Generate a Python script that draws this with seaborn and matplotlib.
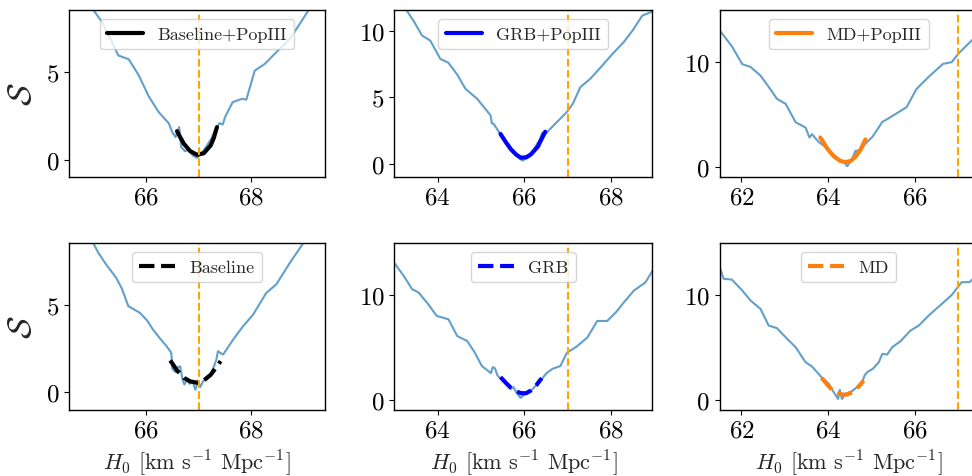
import numpy as np
import pandas as pd
import matplotlib
matplotlib.use("Agg")
import matplotlib.pyplot as plt
import seaborn as sns

# ---------------- data ----------------
# Panel 1: Baseline+PopIII
bp_h0 = [64.90, 65.00, 65.16, 65.32, 65.47, 65.67, 65.86, 66.05, 66.24, 66.43, 66.50, 66.56,
         66.63, 66.67, 66.74, 66.80, 66.89, 66.97, 67.05, 67.14, 67.24, 67.33, 67.40, 67.46,
         67.51, 67.65, 67.83, 67.91, 68.07, 68.26, 68.48, 68.74, 68.91, 69.09, 69.20]
bp_s = [9.00, 8.53, 7.86, 6.91, 5.95, 5.73, 4.81, 3.61, 2.71, 2.08, 1.56, 1.28,
        1.85, 0.71, 0.48, 0.55, 0.23, 0.10, 0.32, 0.71, 1.18, 1.76, 2.08, 2.00,
        2.46, 3.28, 3.47, 3.42, 5.08, 5.46, 6.13, 6.89, 7.67, 8.51, 9.00]
bp_fit_h0 = [66.59, 66.66, 66.72, 66.84, 66.97, 67.10, 67.23, 67.29, 67.35]
bp_fit_s = [1.62, 1.22, 0.90, 0.48, 0.27, 0.36, 0.80, 1.23, 1.85]

# Panel 2: GRB+PopIII
gp_h0 = [63.00, 63.29, 63.46, 63.64, 63.83, 64.06, 64.25, 64.46, 64.64, 64.91, 65.08, 65.22,
         65.25, 65.29, 65.46, 65.58, 65.69, 65.81, 65.88, 65.96, 66.04, 66.12, 66.23, 66.35,
         66.41, 66.45, 66.75, 66.98, 67.12, 67.29, 67.52, 67.77, 68.04, 68.29, 68.50, 68.72,
         68.91, 69.00]
gp_s = [12.3, 11.5, 10.65, 9.63, 9.25, 7.88, 7.58, 6.65, 5.63, 4.88, 4.20, 3.63,
        3.03, 3.00, 2.15, 1.60, 1.15, 0.65, 0.40, 0.23, 0.40, 0.53, 1.15, 1.78,
        2.33, 2.13, 3.13, 3.88, 4.53, 5.75, 6.38, 7.28, 8.28, 9.13, 10.03, 11.13,
        11.38, 11.60]
gp_fit_h0 = [65.45, 65.58, 65.69, 65.81, 65.92, 66.04, 66.15, 66.31, 66.48]
gp_fit_s = [2.23, 1.58, 1.08, 0.68, 0.45, 0.48, 0.70, 1.28, 2.40]

# Panel 3: MD+PopIII
mp_h0 = [61.50, 61.78, 62.02, 62.21, 62.44, 62.63, 62.82, 63.02, 63.25, 63.48, 63.57, 63.63,
         63.78, 63.94, 64.09, 64.25, 64.36, 64.44, 64.54, 64.63, 64.75, 64.86, 65.02, 65.12,
         65.25, 65.32, 65.50, 65.81, 66.04, 66.35, 66.65, 66.85, 67.00, 67.31, 67.50]
mp_s = [13.04, 11.53, 9.81, 9.55, 8.72, 7.64, 6.49, 6.01, 4.25, 3.74, 2.78, 3.10,
        2.36, 1.88, 1.25, 0.67, 0.45, 0.03, 0.61, 1.50, 1.57, 2.20, 2.84, 3.45,
        4.28, 4.44, 4.89, 5.69, 7.44, 8.72, 9.84, 10.00, 10.80, 12.08, 12.70]
mp_fit_h0 = [63.82, 63.98, 64.13, 64.28, 64.40, 64.52, 64.63, 64.75, 64.86]
mp_fit_s = [2.78, 1.73, 0.99, 0.54, 0.42, 0.54, 0.93, 1.63, 2.59]

# Panel 4: Baseline
b_h0 = [64.95, 65.00, 65.09, 65.24, 65.43, 65.54, 65.66, 65.88, 66.02, 66.13, 66.27, 66.39,
        66.48, 66.50, 66.56, 66.61, 66.65, 66.69, 66.73, 66.78, 66.83, 66.89, 66.94, 66.99,
        67.03, 67.08, 67.14, 67.23, 67.30, 67.34, 67.37, 67.42, 67.47, 67.66, 67.85, 68.04,
        68.29, 68.48, 68.74, 69.02]
b_s = [8.80, 8.45, 7.94, 7.27, 6.52, 5.89, 4.91, 4.53, 4.09, 3.58, 3.05, 2.63,
       2.25, 1.34, 1.16, 1.44, 1.48, 0.78, 0.45, 0.72, 0.49, 0.59, 0.15, 0.68,
       0.30, 0.59, 0.83, 1.06, 1.53, 1.88, 2.35, 2.23, 2.16, 3.01, 3.77, 4.43,
       5.66, 6.14, 7.37, 8.60]
b_fit_h0 = [66.46, 66.59, 66.72, 66.84, 66.97, 67.10, 67.23, 67.35, 67.42]
b_fit_s = [1.82, 1.25, 0.83, 0.63, 0.55, 0.68, 1.00, 1.48, 1.78]

# Panel 5: GRB
g_h0 = [63.02, 63.22, 63.41, 63.56, 63.77, 63.98, 64.25, 64.45, 64.68, 64.85, 65.02, 65.23,
        65.27, 65.32, 65.38, 65.50, 65.62, 65.69, 65.75, 65.81, 65.91, 66.00, 66.12, 66.23,
        66.38, 66.52, 66.65, 66.83, 66.98, 67.19, 67.45, 67.68, 67.91, 68.12, 68.29, 68.52,
        68.79, 68.98]
g_s = [12.98, 11.83, 10.58, 10.26, 9.20, 8.01, 7.69, 6.09, 5.61, 4.55, 3.21, 2.53,
       3.11, 3.01, 2.31, 1.83, 1.51, 1.03, 1.19, 0.71, 0.16, 0.48, 0.71, 1.19,
       1.89, 2.56, 2.95, 3.21, 4.49, 5.03, 5.93, 7.53, 7.53, 8.40, 9.29, 10.42,
       11.22, 12.50]
g_fit_h0 = [65.45, 65.58, 65.69, 65.81, 65.92, 66.04, 66.15, 66.27, 66.40]
g_fit_s = [2.15, 1.57, 1.12, 0.80, 0.61, 0.61, 0.87, 1.35, 2.05]

# Panel 6: MD
m_h0 = [61.50, 61.59, 61.78, 62.02, 62.21, 62.44, 62.63, 62.82, 63.02, 63.25, 63.48, 63.63,
        63.78, 63.86, 64.02, 64.13, 64.23, 64.27, 64.32, 64.40, 64.55, 64.78, 64.84, 64.90,
        65.03, 65.17, 65.25, 65.36, 65.48, 65.67, 65.90, 66.09, 66.32, 66.52, 66.71, 66.86,
        67.00, 67.08, 67.26, 67.34, 67.50]
m_s = [12.68, 11.57, 11.50, 10.45, 9.49, 8.69, 7.09, 6.84, 5.97, 5.02, 3.58, 3.16,
       2.46, 2.08, 1.50, 0.70, 0.06, 0.93, 0.06, 0.54, 0.80, 1.57, 2.30, 2.62,
       2.94, 3.58, 4.38, 4.31, 5.02, 5.59, 6.61, 7.09, 8.05, 8.79, 9.49, 10.06,
       10.83, 11.25, 11.25, 11.57, 12.00]
m_fit_h0 = [63.85, 63.98, 64.09, 64.21, 64.32, 64.44, 64.55, 64.69, 64.82]
m_fit_s = [2.08, 1.44, 0.93, 0.61, 0.48, 0.48, 0.70, 1.18, 1.82]

labels = ["Baseline+PopIII", "GRB+PopIII", "MD+PopIII", "Baseline", "GRB", "MD"]
h0_true = 67.0
xlims = [(64.53, 69.41), (63.0, 68.95), (61.5, 67.45)]
ylims = [(-1, 8.55), (-1, 11.55), (-1, 15.0), (-1, 8.5), (-1, 15.0), (-1, 15.0)]
xticks = [[66, 68], [64, 66, 68], [62, 64, 66]]
yticks = [[0, 5], [0, 5, 10], [0, 10], [0, 5], [0, 10], [0, 10]]

# ---------------- style ----------------
sns.set_theme(style="ticks")
plt.rcParams["font.family"] = ["cmr10", "DejaVu Serif"]
plt.rcParams["mathtext.fontset"] = "cm"
plt.rcParams["axes.formatter.use_mathtext"] = True
plt.rcParams["axes.edgecolor"] = "black"
plt.rcParams["axes.linewidth"] = 1.0
plt.rcParams["xtick.color"] = "black"
plt.rcParams["ytick.color"] = "black"
plt.rcParams["xtick.major.size"] = 3.5
plt.rcParams["ytick.major.size"] = 3.5
plt.rcParams["xtick.major.width"] = 0.8
plt.rcParams["ytick.major.width"] = 0.8

W, H = 972, 477
fig = plt.figure(figsize=(W / 100, H / 100), dpi=100)

col_left = [69, 394.3, 719.7]
col_w = [256, 258, 258]
row_top = [11, 244]
row_h = 167

curves = [(bp_h0, bp_s), (gp_h0, gp_s), (mp_h0, mp_s), (b_h0, b_s), (g_h0, g_s), (m_h0, m_s)]
fits = [(bp_fit_h0, bp_fit_s), (gp_fit_h0, gp_fit_s), (mp_fit_h0, mp_fit_s),
        (b_fit_h0, b_fit_s), (g_fit_h0, g_fit_s), (m_fit_h0, m_fit_s)]
fit_colors = ["black", "blue", "#ff7f0e"] * 2
fit_styles = ["-"] * 3 + ["--"] * 3

for i in range(6):
    r, c = divmod(i, 3)
    ax = fig.add_axes([col_left[c] / W, 1 - (row_top[r] + row_h) / H, col_w[c] / W, row_h / H])
    hx, sy = curves[i]
    df = pd.DataFrame({"H0": hx, "S": sy})
    sns.lineplot(data=df, x="H0", y="S", ax=ax, color="#1f77b4", alpha=0.7, lw=1.5,
                 estimator=None, sort=False)
    fx, fy = fits[i]
    dff = pd.DataFrame({"H0": fx, "S": fy})
    sns.lineplot(data=dff, x="H0", y="S", ax=ax, color=fit_colors[i], lw=3,
                 linestyle=fit_styles[i], label=labels[i], estimator=None, sort=False)
    ax.axvline(h0_true, color="orange", ls="--", lw=1.5)
    ax.set_xlim(*xlims[c])
    ax.set_ylim(*ylims[i])
    ax.set_xticks(xticks[c])
    ax.set_yticks(yticks[i])
    ax.tick_params(labelsize=18)
    for sp in ax.spines.values():
        sp.set_visible(True)
        sp.set_color("black")
    ax.legend(loc="upper center", fontsize=13, framealpha=0.8)
    if c == 0:
        ax.set_ylabel(r"$\mathcal{S}$", fontsize=24, labelpad=6)
    else:
        ax.set_ylabel("")
    if r == 1:
        ax.set_xlabel(r"$H_0$ [km s$^{-1}$ Mpc$^{-1}$]", fontsize=16)
    else:
        ax.set_xlabel("")

fig.savefig("out.png", dpi=100)
